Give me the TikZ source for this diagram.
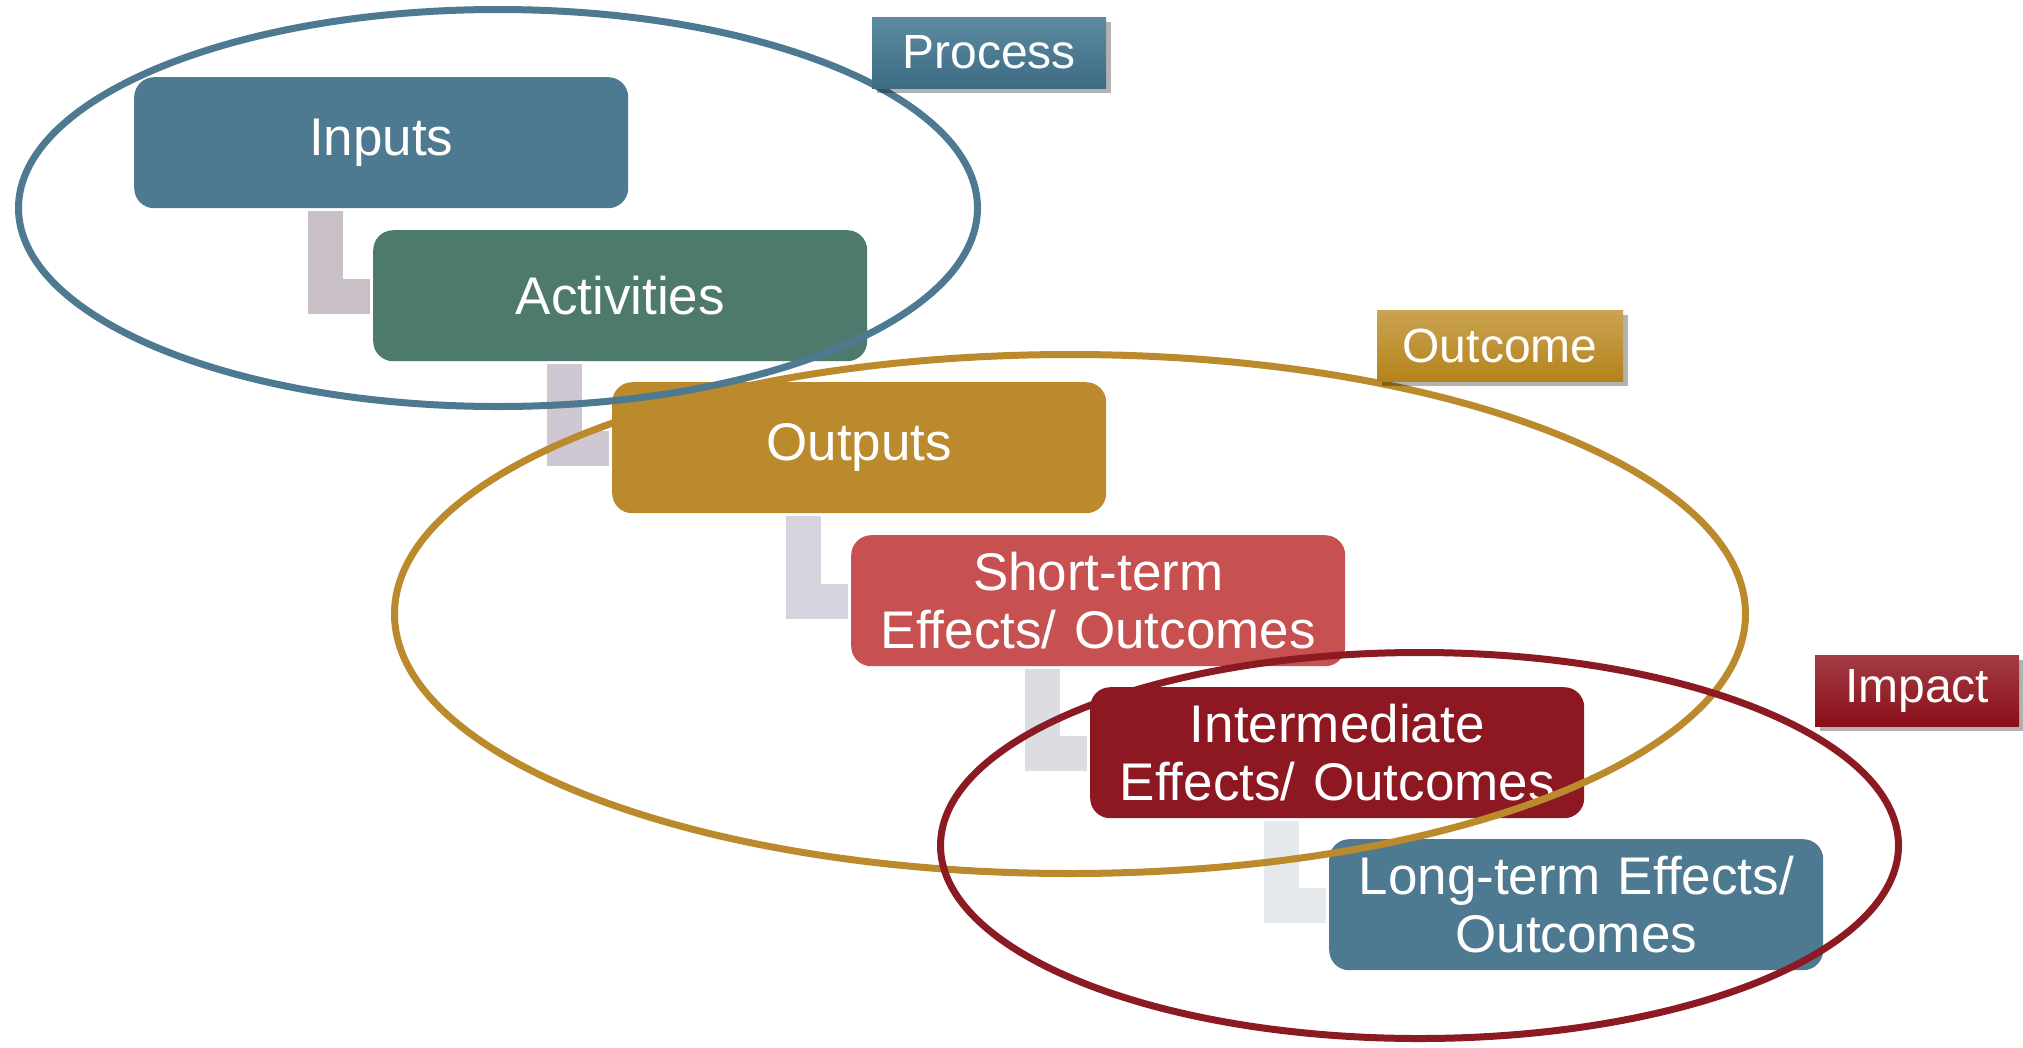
\documentclass[tikz,border=0pt]{standalone}
\usepackage{fontspec}
\setmainfont{Liberation Sans}
\usetikzlibrary{calc,shadows}
\definecolor{cblue}{HTML}{4D7A91}
\definecolor{cgreen}{HTML}{4E7A6E}
\definecolor{cgold}{HTML}{BB8A2C}
\definecolor{cred}{HTML}{C75151}
\definecolor{cdark}{HTML}{8E1822}
\definecolor{ellA}{HTML}{4D7A91}
\definecolor{ellB}{HTML}{BB8A2C}
\definecolor{ellC}{HTML}{8B1A22}
\definecolor{lA}{HTML}{C9BFC7}
\definecolor{lB}{HTML}{CFC8D3}
\definecolor{lC}{HTML}{D6D3DE}
\definecolor{lD}{HTML}{DCDDE2}
\definecolor{lE}{HTML}{E6E9EC}
\definecolor{pTop}{HTML}{5C8BA1}
\definecolor{pBot}{HTML}{3D6B83}
\definecolor{oTop}{HTML}{CAA352}
\definecolor{oBot}{HTML}{B5831C}
\definecolor{iTop}{HTML}{A23C44}
\definecolor{iBot}{HTML}{8A0F19}
\begin{document}
\begin{tikzpicture}[x=1pt,y=-1pt,
  box/.style={rectangle, rounded corners=20pt, minimum width=494pt, minimum height=131pt,
    text=white, align=center, text width=480pt, inner sep=0pt,
    font=\fontsize{53}{58}\selectfont, anchor=north west},
  tag/.style={rectangle, minimum height=71pt, inner sep=0pt, text=white,
    font=\fontsize{48}{54}\selectfont,
    drop shadow={shadow xshift=5pt, shadow yshift=-5pt, opacity=0.3, fill=black}},
  ring/.style={line width=7pt}]
\useasboundingbox (0,0) rectangle (2023,1047);
\fill[white] (0,0) rectangle (2023,1047);

% boxes
\node[box, fill=cblue]  (in)  at (134,77)  {Inputs};
\node[box, fill=cgreen] (act) at (373,230) {Activities};
\node[box, fill=cgold]  (out) at (612,382) {Outputs};
\node[box, fill=cred]   (st)  at (851,535) {Short-term\\Effects/ Outcomes};
\node[box, fill=cdark]  (im)  at (1090,687) {Intermediate\\Effects/ Outcomes};
\node[box, fill=cblue]  (lt)  at (1329,839) {Long-term Effects/\\Outcomes};

% L-shaped connectors
\foreach \a/\b/\c in {in/act/lA, act/out/lB, out/st/lC, st/im/lD, im/lt/lE}{
  \fill[\c] ($(\a.south west)+(174,3)$) rectangle ($(\b.north west)+(-30,84)$);
  \fill[\c] ($(\b.north west)+(-65,49)$) rectangle ($(\b.north west)+(-3,84)$);
}

% ellipses
\draw[ring, ellA] (498,208) ellipse [x radius=479.5pt, y radius=198.5pt];
\draw[ring, ellB] (1070,614) ellipse [x radius=675.5pt, y radius=259.5pt];
\draw[ring, ellC] (1419.5,845.5) ellipse [x radius=479pt, y radius=193pt];

% labels
\node[tag, minimum width=234pt, top color=pTop, bottom color=pBot] (proc) at (989,52.5) {Process};
\node[tag, minimum width=246pt, top color=oTop, bottom color=oBot] (outc) at (1500,345.5) {Outcome};
\node[tag, minimum width=204pt, top color=iTop, bottom color=iBot] (imp) at (1917,690.5) {Impact};
\end{tikzpicture}
\end{document}
